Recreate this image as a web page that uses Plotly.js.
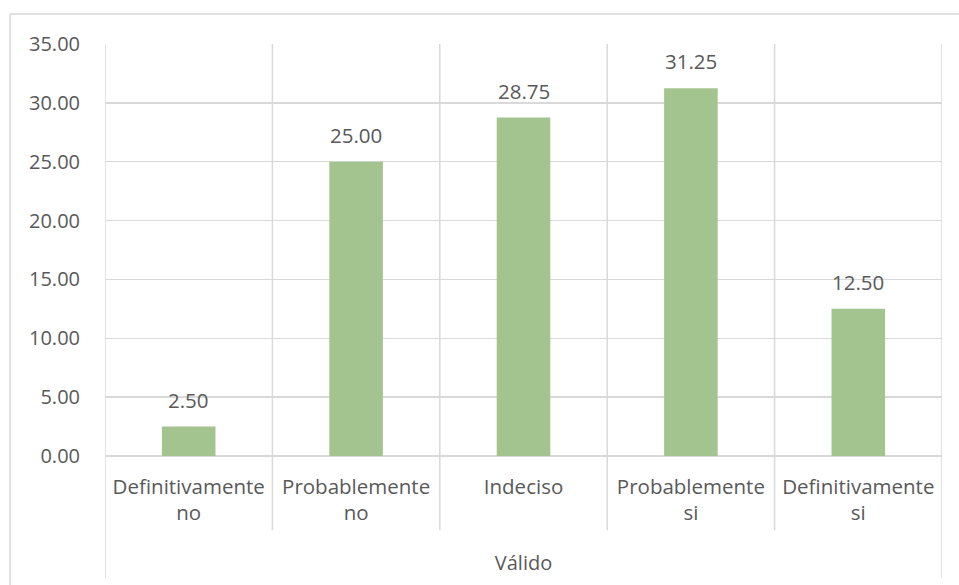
<!DOCTYPE html>
<html>
<head>
<meta charset="utf-8">
<script src="https://cdn.plot.ly/plotly-3.0.1.min.js"></script>
<style>html,body{margin:0;padding:0;background:#fff;}#chart{width:959px;height:585px;}</style>
</head>
<body>
<div id="chart"></div>
<script>
const categories = ["Definitivamente<br>no", "Probablemente<br>no", "Indeciso", "Probablemente<br>si", "Definitivamente<br>si"];
const values = [2.50, 25.00, 28.75, 31.25, 12.50];
const groupLabel = "Válido";
const yTicks = [0, 5, 10, 15, 20, 25, 30, 35];

const textColor = "#595959";
const gridColor = "#d9d9d9";
const fontFamily = "'Open Sans', 'Noto Sans', sans-serif";

const idx = categories.map((c, i) => i);

const trace = {
  type: "bar",
  x: idx,
  y: values,
  marker: {color: "#a3c48f"},
  hoverinfo: "skip"
};

const annotations = idx.map(i => ({
  x: i, y: values[i], xref: "x", yref: "y",
  text: values[i].toFixed(2),
  showarrow: false, yanchor: "bottom", yshift: 11,
  font: {family: fontFamily, size: 20.5, color: textColor}
}));

const shapes = [];
// vertical category dividers
for (let k = 0; k <= categories.length; k++) {
  const outer = (k === 0 || k === categories.length);
  shapes.push({
    type: "line", xref: "x", yref: "paper",
    x0: k - 0.5, x1: k - 0.5, y0: outer ? -0.296 : -0.18, y1: 1,
    line: {color: gridColor, width: 1.5}, layer: "below"
  });
}
// outer chart border
shapes.push({type: "line", xref: "paper", yref: "paper", x0: -0.1135, x1: 1.1, y0: 1.0728, y1: 1.0728, line: {color: gridColor, width: 1.5}});
shapes.push({type: "line", xref: "paper", yref: "paper", x0: -0.1135, x1: -0.1135, y0: 1.0728, y1: -0.35, line: {color: gridColor, width: 1.5}});

const layout = {
  width: 959, height: 585,
  margin: {l: 105, r: 17, t: 44, b: 129},
  paper_bgcolor: "#fff", plot_bgcolor: "#fff",
  font: {family: fontFamily, size: 20, color: textColor},
  bargap: 0.68,
  showlegend: false,
  xaxis: {
    range: [-0.5, categories.length - 0.5],
    tickvals: idx, ticktext: categories,
    showgrid: false, zeroline: false, showline: false, ticks: "",
    tickfont: {family: fontFamily, size: 20.5, color: textColor},
    ticklabelstandoff: 16,
    title: {text: groupLabel, standoff: 30, font: {family: fontFamily, size: 20, color: textColor}},
    fixedrange: true
  },
  yaxis: {
    range: [0, 35],
    tickvals: yTicks, tickformat: ".2f",
    showgrid: true, gridcolor: gridColor, gridwidth: 1.5,
    zeroline: true, zerolinecolor: gridColor, zerolinewidth: 1.5,
    showline: false, ticks: "",
    ticklabelstandoff: 24,
    tickfont: {family: fontFamily, size: 20, color: textColor},
    fixedrange: true
  },
  annotations: annotations,
  shapes: shapes
};

Plotly.newPlot("chart", [trace], layout, {displayModeBar: false, staticPlot: true});
</script>
</body>
</html>
